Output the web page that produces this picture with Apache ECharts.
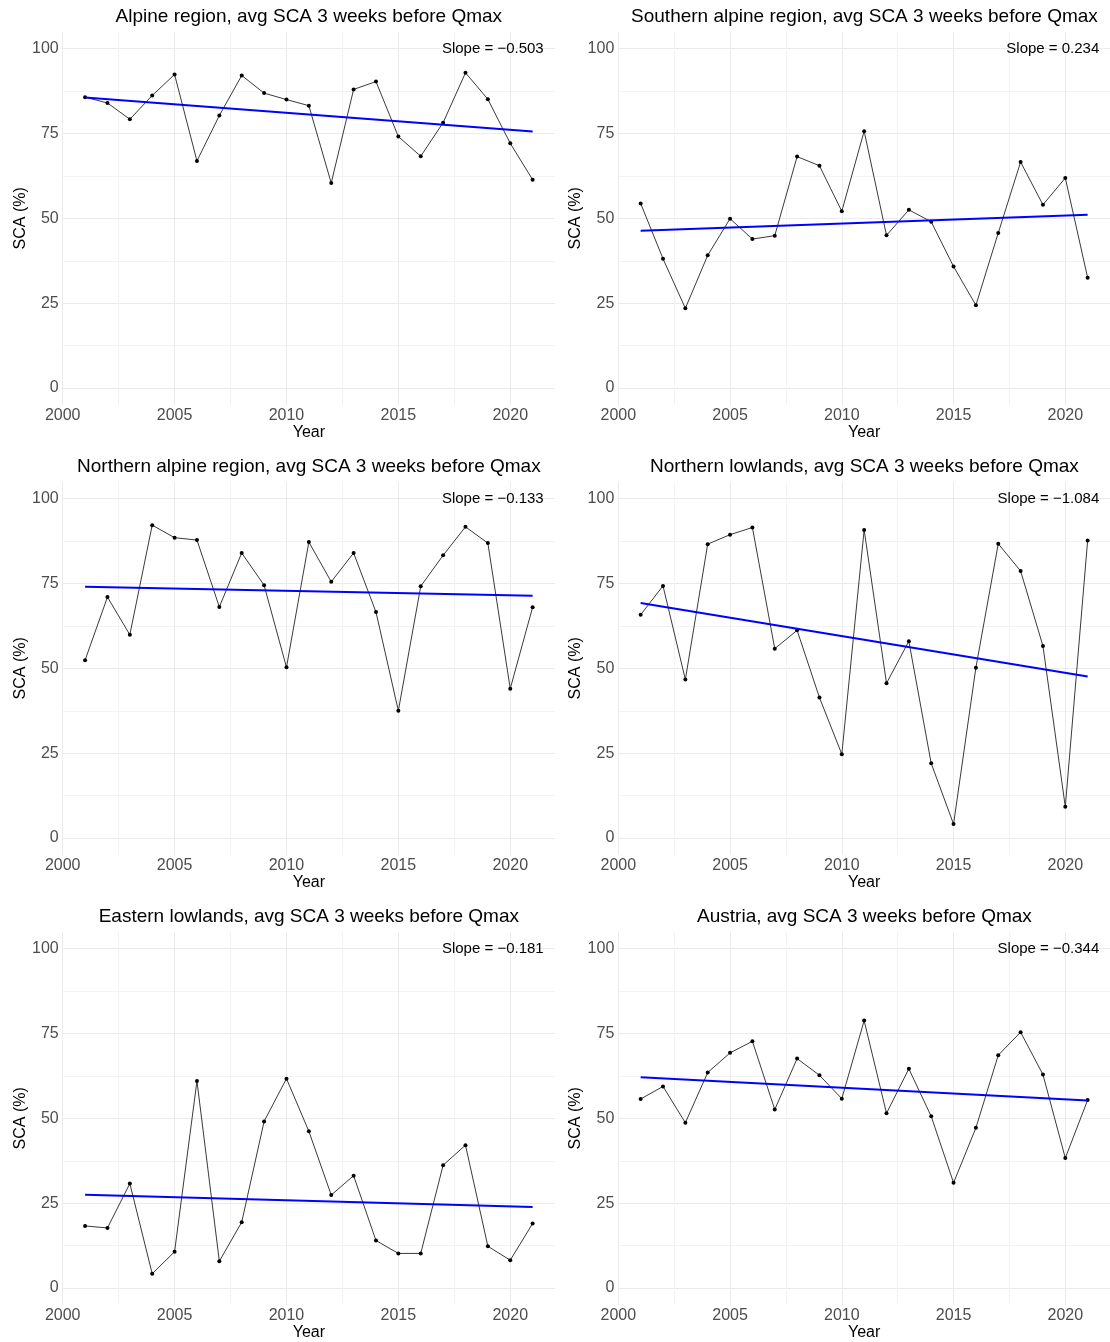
<!DOCTYPE html>
<html>
<head>
<meta charset="utf-8">
<script src="https://cdn.jsdelivr.net/npm/echarts@6/dist/echarts.min.js"></script>
<style>
html,body{margin:0;padding:0;background:#fff;}
#chart{width:1110px;height:1342px;}
</style>
</head>
<body>
<div id="chart"></div>
<script>
// ---------- data ----------
const years = [2001,2002,2003,2004,2005,2006,2007,2008,2009,2010,2011,2012,2013,2014,2015,2016,2017,2018,2019,2020,2021];

const alpine           = [85.7,84.0,79.2,86.2,92.4,66.9,80.3,92.1,86.9,85.0,83.2,60.4,88.0,90.3,74.1,68.3,78.2,92.9,85.1,72.1,61.4];
const southernAlpine   = [54.4,38.1,23.5,39.1,49.9,43.9,44.9,68.2,65.5,52.1,75.7,45.0,52.5,49.0,35.8,24.4,45.7,66.6,54.0,61.9,32.5];
const northernAlpine   = [52.4,71.0,59.9,92.2,88.5,87.8,68.1,84.0,74.5,50.3,87.2,75.5,84.0,66.6,37.5,74.2,83.3,91.7,86.9,44.0,68.0];
const northernLowlands = [65.8,74.3,46.7,86.6,89.4,91.5,55.8,61.2,41.4,24.7,90.8,45.6,58.0,22.0,4.1,50.2,86.7,78.7,56.6,9.2,87.7];
const easternLowlands  = [18.3,17.7,30.8,4.2,10.7,61.0,7.9,19.4,49.1,61.7,46.2,27.4,33.1,14.0,10.2,10.2,36.2,42.1,12.3,8.2,19.0];
const austria          = [55.7,59.4,48.7,63.5,69.3,72.7,52.6,67.6,62.7,55.8,78.8,51.5,64.6,50.6,31.0,47.2,68.6,75.4,62.9,38.3,55.4];

const panelTitles = [
  'Alpine region, avg SCA 3 weeks before Qmax',
  'Southern alpine region, avg SCA 3 weeks before Qmax',
  'Northern alpine region, avg SCA 3 weeks before Qmax',
  'Northern lowlands, avg SCA 3 weeks before Qmax',
  'Eastern lowlands, avg SCA 3 weeks before Qmax',
  'Austria, avg SCA 3 weeks before Qmax'
];
const slopes = [-0.503, 0.234, -0.133, -1.084, -0.181, -0.344];
const slopeLabels = ['Slope = \u22120.503','Slope = 0.234','Slope = \u22120.133','Slope = \u22121.084','Slope = \u22120.181','Slope = \u22120.344'];

const xLabelTicks = [2000,2005,2010,2015,2020];
const xGridTicks  = [2000,2002.5,2005,2007.5,2010,2012.5,2015,2017.5,2020];
const yLabelTicks = [0,25,50,75,100];
const yGridTicks  = [0,12.5,25,37.5,50,62.5,75,87.5,100];

// ---------- layout ----------
const FONT = "'Liberation Sans', Arial, Helvetica, sans-serif";
const colLeft = [62.7, 618.3];
const panelW = 492.3;
const rowTop0 = 31.7, rowStep = 450, panelH = 373.3;

const panelSeries = [alpine, southernAlpine, northernAlpine, northernLowlands, easternLowlands, austria];

function mean(a){ return a.reduce((s,v)=>s+v,0)/a.length; }

const grids = [], xAxes = [], yAxes = [], series = [], graphics = [];

panelSeries.forEach((vals, i) => {
  const col = i % 2, row = Math.floor(i / 2);
  const left = colLeft[col], top = rowTop0 + row * rowStep;
  grids.push({left: left, top: top, width: panelW, height: panelH, containLabel: false});

  xAxes.push({
    type: 'value', gridIndex: i, min: 2000, max: 2022,
    name: 'Year', nameLocation: 'middle', nameGap: 20,
    nameTextStyle: {color: '#000', fontSize: 16, fontFamily: FONT},
    axisLine: {show: false},
    axisTick: {show: false, customValues: xGridTicks},
    axisLabel: {customValues: xLabelTicks, color: '#4d4d4d', fontSize: 16, fontFamily: FONT, margin: 3,
                formatter: v => String(v)},
    splitLine: {show: true, lineStyle: {color: ['#ebebeb', '#f3f3f3'], width: 1}}
  });
  yAxes.push({
    type: 'value', gridIndex: i, min: -5, max: 105,
    name: 'SCA (%)', nameLocation: 'middle', nameGap: 34, nameRotate: 90,
    nameTextStyle: {color: '#000', fontSize: 16, fontFamily: FONT},
    axisLine: {show: false},
    axisTick: {show: false, customValues: yGridTicks},
    axisLabel: {customValues: yLabelTicks, color: '#4d4d4d', fontSize: 16, fontFamily: FONT, margin: 4},
    splitLine: {show: true, lineStyle: {color: ['#ebebeb', '#f3f3f3'], width: 1}}
  });

  series.push({
    type: 'line', xAxisIndex: i, yAxisIndex: i,
    data: years.map((y, k) => [y, vals[k]]),
    symbol: 'circle', symbolSize: 4,
    lineStyle: {color: '#3a3a3a', width: 1},
    itemStyle: {color: '#000'},
    animation: false, z: 2
  });

  const xm = mean(years), ym = mean(vals), s = slopes[i];
  const x0 = years[0], x1 = years[years.length - 1];
  series.push({
    type: 'line', xAxisIndex: i, yAxisIndex: i,
    data: [[x0, ym + s * (x0 - xm)], [x1, ym + s * (x1 - xm)]],
    symbol: 'none',
    lineStyle: {color: '#0000ff', width: 2},
    animation: false, z: 3
  });

  graphics.push({
    type: 'text', x: left + panelW / 2, y: top - 14.5, z: 100,
    style: {text: panelTitles[i], fill: '#000', font: '19px ' + FONT, align: 'center', verticalAlign: 'middle'}
  });
  graphics.push({
    type: 'text', x: left + 481, y: top + 17, z: 100,
    style: {text: slopeLabels[i], fill: '#000', font: '15px ' + FONT, align: 'right', verticalAlign: 'middle'}
  });
});

const chart = echarts.init(document.getElementById('chart'), null, {renderer: 'canvas'});
chart.setOption({
  backgroundColor: '#fff',
  animation: false,
  grid: grids,
  xAxis: xAxes,
  yAxis: yAxes,
  series: series,
  graphic: graphics
});
</script>
</body>
</html>
